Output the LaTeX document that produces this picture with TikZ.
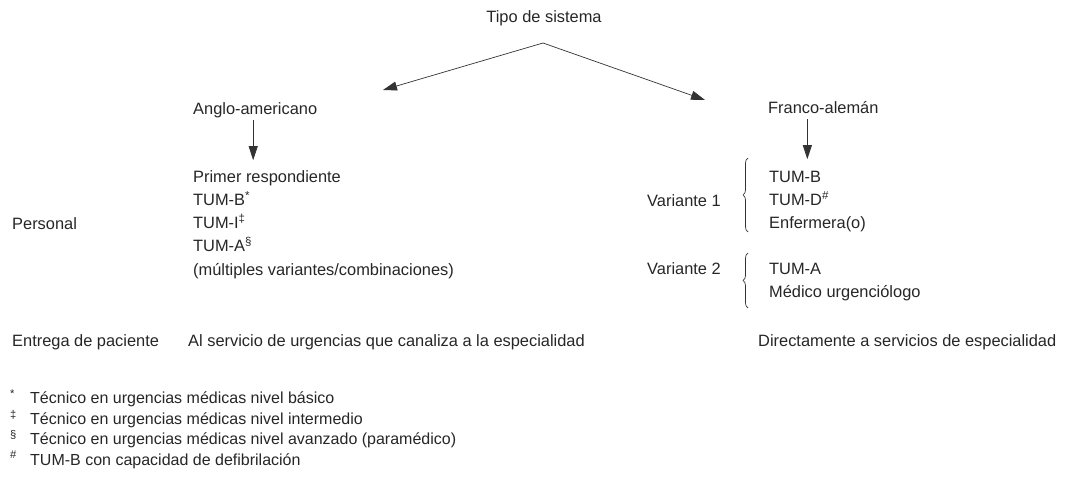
\documentclass[tikz,border=0pt]{standalone}
\usepackage{fontspec}
\setmainfont{Liberation Sans}
\usepackage{tikz}
\usetikzlibrary{arrows.meta,decorations.pathreplacing}

\begin{document}
\begin{tikzpicture}[x=1pt,y=-1pt]
	\tikzstyle{txt} = [anchor=west, inner sep=0pt, text height=10pt, text depth=0pt, font=\fontsize{16.4}{19}\selectfont, text=black!85]
	\tikzstyle{title} = [txt, anchor=center]
	\tikzstyle{note} = [txt, font=\fontsize{16}{19}\selectfont]
	\tikzset{edge/.style = {draw=black!80, line width=0.7pt, -{Triangle[length=14pt,width=9pt]}}}
	\tikzset{curly/.style = {draw=black!80, line width=0.7pt, decorate, decoration={brace, amplitude=5pt}}}
	
	\useasboundingbox (0,0) rectangle (1080,486);
	
	\node[title](tipo) at (544,18) {Tipo de sistema};
	\coordinate (apex) at (543,43);
	\coordinate (angloend) at (383,90);
	\coordinate (francoend) at (705,100);
	\draw[edge](apex) to (angloend);
	\draw[edge](apex) to (francoend);
	
	\node[txt](anglo) at (193,110) {Anglo-americano};
	\node[txt](franco) at (768,109) {Franco-alemán};
	
	% anglo-americano
	\node[txt](primer) at (193,178) {Primer respondiente};
	\node[txt](tumb) at (193,201) {TUM-B\textsuperscript{*}};
	\node[txt](tumi) at (193,224) {TUM-I\textsuperscript{‡}};
	\node[txt](tuma) at (193,247) {TUM-A\textsuperscript{§}};
	\node[txt](multi) at (193,271) {(múltiples variantes/combinaciones)};
	\node[txt](personal) at (12,225) {Personal};
	\draw[edge, shorten <=5pt]([xshift=-2pt]anglo.south) to ++(0,45);
	
	% franco-aleman
	\node[txt](var1) at (647,202) {Variante 1};
	\node[txt](rtumb) at (769,178) {TUM-B};
	\node[txt](tumd) at (769,201) {TUM-D\textsuperscript{\#}};
	\node[txt](enf) at (769,224) {Enfermera(o)};
	\node[txt](var2) at (647,270) {Variante 2};
	\node[txt](rtuma) at (769,270) {TUM-A};
	\node[txt](medico) at (769,293) {Médico urgenciólogo};
	\draw[edge, shorten <=5pt]([xshift=-16pt]franco.south) to ++(0,45);
	
	\coordinate (b1top) at (748,158);
	\coordinate (b1bot) at (748,232);
	\coordinate (b2top) at (748,253);
	\coordinate (b2bot) at (748,308);
	\draw[curly](b1bot) to (b1top);
	\draw[curly](b2bot) to (b2top);
	
	% entrega
	\node[txt](entrega) at (12,342) {Entrega de paciente};
	\node[txt](urgencias) at (188,342) {Al servicio de urgencias que canaliza a la especialidad};
	\node[txt](directo) at (758,342) {Directamente a servicios de especialidad};
	
	% notas
	\node[note](nota1) at (10,399) {\makebox[20pt][l]{\textsuperscript{*}}Técnico en urgencias médicas nivel básico};
	\node[note](nota2) at (10,420) {\makebox[20pt][l]{\textsuperscript{‡}}Técnico en urgencias médicas nivel intermedio};
	\node[note](nota3) at (10,440) {\makebox[20pt][l]{\textsuperscript{§}}Técnico en urgencias médicas nivel avanzado (paramédico)};
	\node[note](nota4) at (10,460) {\makebox[20pt][l]{\textsuperscript{\#}}TUM-B con capacidad de defibrilación};
	
\end{tikzpicture}
\end{document}
